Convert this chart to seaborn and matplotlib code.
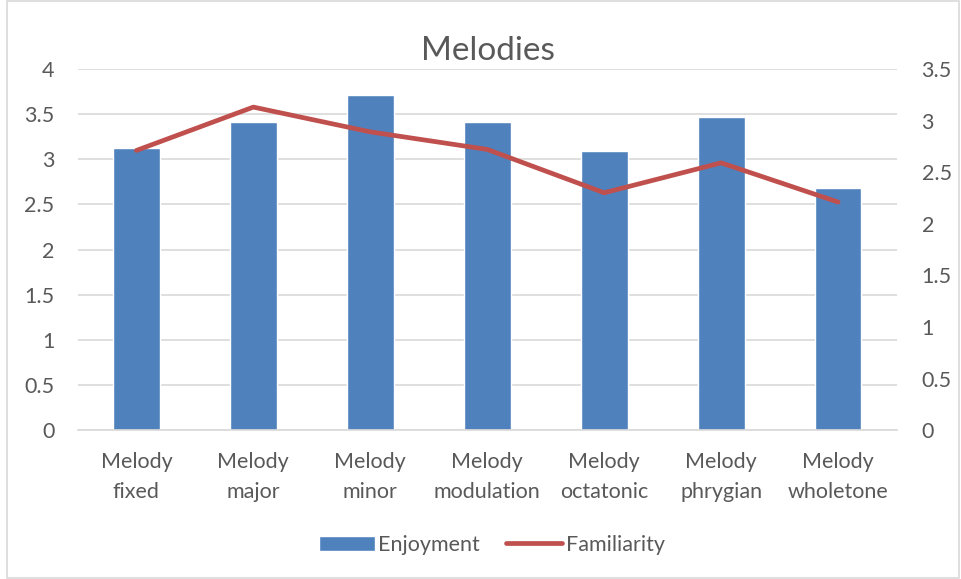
import matplotlib
matplotlib.use("Agg")
import matplotlib.pyplot as plt
from matplotlib.patches import Rectangle
import seaborn as sns
import pandas as pd

categories = ["Melody\nfixed", "Melody\nmajor", "Melody\nminor", "Melody\nmodulation",
              "Melody\noctatonic", "Melody\nphrygian", "Melody\nwholetone"]
enjoyment = [3.12, 3.41, 3.71, 3.41, 3.09, 3.47, 2.68]
familiarity = [2.71, 3.13, 2.89, 2.72, 2.30, 2.59, 2.21]
left_ticks = [0, 0.5, 1, 1.5, 2, 2.5, 3, 3.5, 4]
right_ticks = [0, 0.5, 1, 1.5, 2, 2.5, 3, 3.5]

sns.set_theme(style="white")
plt.rcParams["font.family"] = ["Lato", "DejaVu Sans"]

bar_color = "#4F81BD"
line_color = "#C0504D"
text_color = "#595959"
grid_color = "#D9D9D9"

df = pd.DataFrame({"cat": categories, "Enjoyment": enjoyment, "Familiarity": familiarity})

fig = plt.figure(figsize=(9.62, 5.79), dpi=100)
ax = fig.add_axes([0.081, 0.257, 0.851, 0.624])

sns.barplot(data=df, x="cat", y="Enjoyment", color=bar_color, width=0.4,
            saturation=1, ax=ax, label="Enjoyment", zorder=2)
ax.set_ylim(0, 4)
ax.set_yticks(left_ticks)
ax.set_yticklabels([f"{t:g}" for t in left_ticks])
ax.grid(axis="y", color=grid_color, linewidth=1.2, zorder=0)
ax.set_axisbelow(True)
ax.set_xlabel("")
ax.set_ylabel("")

ax2 = ax.twinx()
sns.lineplot(data=df, x="cat", y="Familiarity", color=line_color, linewidth=3.4,
             sort=False, ax=ax2, label="Familiarity", solid_capstyle="round")
ax2.set_ylim(0, 3.5)
ax2.set_yticks(right_ticks)
ax2.set_yticklabels([f"{t:g}" for t in right_ticks])
ax2.set_ylabel("")
ax2.set_xlabel("")
ax.set_xlim(-0.5, len(categories) - 0.5)

for a in (ax, ax2):
    for side in ("top", "left", "right", "bottom"):
        a.spines[side].set_visible(False)
    a.tick_params(axis="both", length=0, labelsize=15.5, labelcolor=text_color)
ax.spines["bottom"].set_visible(True)
ax.spines["bottom"].set_color(grid_color)
ax.spines["bottom"].set_linewidth(1.2)
ax.tick_params(axis="y", pad=17)
ax2.tick_params(axis="y", pad=18)
ax.tick_params(axis="x", pad=16)
for lbl in ax.get_xticklabels():
    lbl.set_linespacing(1.6)

h1, l1 = ax.get_legend_handles_labels()
h2, l2 = ax2.get_legend_handles_labels()
if ax.get_legend():
    ax.get_legend().remove()
if ax2.get_legend():
    ax2.get_legend().remove()
fig.legend(h1 + h2, l1 + l2, loc="center", bbox_to_anchor=(0.511, 0.059), ncol=2,
           frameon=False, fontsize=15.5, labelcolor=text_color, handlelength=2.6,
           handletextpad=0.15, columnspacing=1.25)

fig.text(0.507, 0.912, "Melodies", ha="center", va="center", fontsize=24, color=text_color)

fig.patches.append(Rectangle((0.007, 0.002), 0.99, 0.996, transform=fig.transFigure,
                             fill=False, edgecolor=grid_color, linewidth=1.2))

fig.savefig("out.png", dpi=100, facecolor="white")
